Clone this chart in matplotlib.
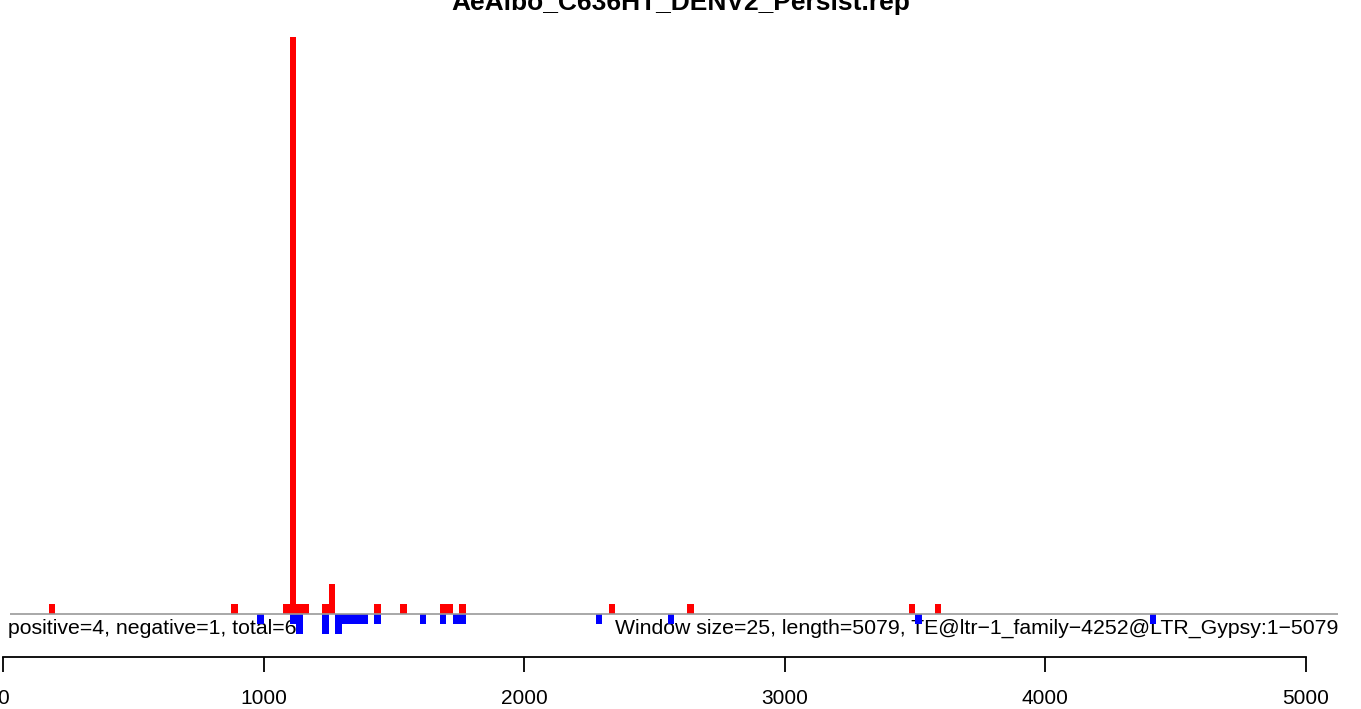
import matplotlib
matplotlib.use("Agg")
import matplotlib.pyplot as plt

# window counts, left edge of each 25 bp window
pos_bins = [175, 875, 1075, 1100, 1125, 1150, 1225, 1250, 1425, 1525,
            1675, 1700, 1750, 2325, 2625, 3475, 3575]
pos_counts = [1, 1, 1, 58, 1, 1, 1, 3, 1, 1, 1, 1, 1, 1, 1, 1, 1]
neg_bins = [975, 1100, 1125, 1225, 1275, 1300, 1325, 1350, 1375, 1425,
            1600, 1675, 1725, 1750, 2275, 2550, 3500, 4400]
neg_counts = [1, 1, 2, 2, 2, 1, 1, 1, 1, 1, 1, 1, 1, 1, 1, 1, 1, 1]
x_ticks = [0, 1000, 2000, 3000, 4000, 5000]
window = 25
title = "AeAlbo_C636HT_DENV2_Persist.rep"
left_note = "positive=4, negative=1, total=6"
right_note = "Window size=25, length=5079, TE@ltr\u22121_family\u22124252@LTR_Gypsy:1\u22125079"

plt.rcParams['font.family'] = ['Liberation Sans', 'DejaVu Sans']

W, H = 1361, 709
fig = plt.figure(figsize=(W / 100, H / 100), dpi=100)
ax = fig.add_axes([0, 0, 1, 1])

# pixel -> data scale
px_per_x = 0.2606
px_per_y = 577 / 58
x0_px, y0_px = 3, 614
ax.set_xlim(-x0_px / px_per_x, (W - x0_px) / px_per_x)
ax.set_ylim(-(H - y0_px) / px_per_y, y0_px / px_per_y)
ax.patch.set_alpha(0)

ax.bar(pos_bins, pos_counts, width=window, align='edge', color='red',
       linewidth=0, zorder=2)
ax.bar(neg_bins, [-c for c in neg_counts], width=window, align='edge',
       color='blue', linewidth=0, zorder=2)
ax.hlines(0, 27, 5123, color='#999999', linewidth=1.2, zorder=3)

# notes sit under the bars, as in the R output
ax.text(5 / px_per_x, -14 / px_per_y, left_note, ha='left', va='center',
        fontsize=15.3, zorder=1)
ax.text(5123, -14 / px_per_y, right_note, ha='right', va='center',
        fontsize=15.3, zorder=1)

# bottom axis like R's axis(1)
for s in ['top', 'left', 'right']:
    ax.spines[s].set_visible(False)
ax.spines['bottom'].set_position(('data', -43 / px_per_y))
ax.spines['bottom'].set_bounds(0, 5000)
ax.spines['bottom'].set_linewidth(1.3)
ax.set_xticks(x_ticks)
ax.set_xticklabels([str(t) for t in x_ticks], fontsize=15)
ax.tick_params(axis='x', direction='out', length=11, width=1.3, pad=12)
ax.set_yticks([])

fig.text(0.5, 1 - 10 / H, title, ha='center', va='baseline',
         fontsize=19, fontweight='bold')

fig.savefig("out.png", dpi=100)
